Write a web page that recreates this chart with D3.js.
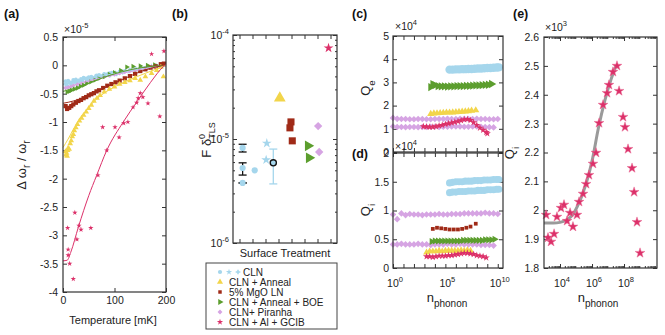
<!DOCTYPE html>
<html><head><meta charset="utf-8">
<script src="https://cdn.jsdelivr.net/npm/d3@7"></script>
<style>
body{margin:0;background:#fff}
svg{font-family:"Liberation Sans",Arial,sans-serif}
</style></head><body><div id="chart"></div>
<script>
// ---- (a) frequency shift vs temperature ----
const aBlueT = [5,10,15,20,25,30,35,40,45,50,55,60,65,70,75,80,85,90,95,100,110,120,130,140,150,160,170,180,190,196];
const aBlueV = [-0.28,-0.27,-0.30,-0.26,-0.25,-0.27,-0.24,-0.22,-0.23,-0.21,-0.20,-0.22,-0.18,-0.17,-0.19,-0.15,-0.16,-0.14,-0.13,-0.14,-0.11,-0.10,-0.08,-0.07,-0.06,-0.04,-0.03,-0.02,0.00,0.02];
const aBlue2T = [6,12,18,24,30,38,46,54,62,70,78,86,94,102,112,122,132,142,152,162,172,182,192];
const aBlue2V = [-0.33,-0.31,-0.30,-0.29,-0.28,-0.26,-0.25,-0.23,-0.21,-0.20,-0.18,-0.17,-0.15,-0.14,-0.12,-0.10,-0.09,-0.07,-0.05,-0.04,-0.02,-0.01,0.01];
const aBlue3T = [8,16,26,36,48,58,68,80,92,104,116,128,140,156,168,184,194];
const aBlue3V = [-0.36,-0.33,-0.31,-0.28,-0.26,-0.24,-0.22,-0.19,-0.17,-0.15,-0.12,-0.10,-0.08,-0.06,-0.04,-0.02,0.00];
const aPurT = [5,10,15,20,28,36,44,52,60,70,80,90,100,110,120,130,140,150,160,170,180,190];
const aPurV = [-0.40,-0.39,-0.38,-0.36,-0.34,-0.32,-0.30,-0.28,-0.26,-0.23,-0.20,-0.18,-0.16,-0.14,-0.12,-0.10,-0.08,-0.06,-0.05,-0.03,-0.02,0.00];
const aGrnT = [8,12,16,22,28,34,40,46,54,62,70,80,90,100,112,124,136,150,164,178,192];
const aGrnV = [-0.47,-0.46,-0.44,-0.42,-0.40,-0.37,-0.35,-0.32,-0.29,-0.26,-0.23,-0.20,-0.16,-0.13,-0.09,-0.03,-0.02,-0.01,0.00,0.01,0.00];
const aRedT = [5,8,12,16,20,25,30,35,40,45,50,55,60,65,70,78,86,94,102,110,120,130,140,150,160,170,180,190,196];
const aRedV = [-0.72,-0.77,-0.75,-0.72,-0.69,-0.66,-0.63,-0.61,-0.58,-0.56,-0.53,-0.51,-0.49,-0.46,-0.44,-0.40,-0.36,-0.33,-0.30,-0.27,-0.23,-0.19,-0.15,-0.10,-0.07,-0.04,-0.02,0.02,0.03];
const aYelT = [5,6,7,8,9,10,12,14,16,18,20,22,25,28,32,36,40,45,50,55,60,66,72,80,90,100,110,120,130,140,150,160,172,182,190,195];
const aYelV = [-1.52,-1.58,-1.55,-1.60,-1.50,-1.46,-1.48,-1.38,-1.33,-1.26,-1.22,-1.15,-1.10,-1.04,-0.98,-0.93,-0.88,-0.82,-0.76,-0.70,-0.63,-0.58,-0.53,-0.47,-0.42,-0.38,-0.33,-0.30,-0.27,-0.23,-0.26,-0.20,-0.14,-0.09,-0.03,-0.20];
const aMagT = [9,10,10,13,20,23,27,31,35,54,68,77,85,101,109,118,126,136,143,146,150,155,165,172,188,196];
const aMagV = [-2.87,-3.25,-3.35,-3.50,-3.77,-2.60,-3.07,-2.83,-2.90,-2.87,-1.94,-1.09,-1.50,-1.09,-1.27,-1.02,-1.00,-0.74,-0.66,-0.58,-0.49,-0.56,-0.67,0.20,-0.90,0.25];
// fits
const fitBlueT = [0,40,80,120,160,200], fitBlueV = [-0.34,-0.26,-0.18,-0.11,-0.05,0.0];
const fitPurT = [0,40,80,120,160,200], fitPurV = [-0.40,-0.30,-0.21,-0.13,-0.06,0.0];
const fitGrnT = [0,20,40,60,80,100,130,160,200], fitGrnV = [-0.46,-0.41,-0.35,-0.28,-0.21,-0.15,-0.08,-0.03,0.0];
const fitRedT = [0,20,40,60,80,100,120,140,160,180,200], fitRedV = [-0.67,-0.63,-0.57,-0.49,-0.40,-0.31,-0.23,-0.15,-0.08,-0.03,0.0];
const fitYelT = [0,10,20,30,40,60,80,100,130,160,200], fitYelV = [-1.45,-1.30,-1.13,-0.98,-0.86,-0.64,-0.49,-0.38,-0.25,-0.14,0.0];
const fitMagT = [0,8,15,30,50,65,85,117,143,170,195,200], fitMagV = [-3.45,-3.44,-3.30,-2.85,-2.30,-1.95,-1.50,-1.00,-0.65,-0.30,-0.02,0.02];

// ---- (b) F delta TLS per surface treatment ----
const bCircX = [1.24,1.24,1.24,2.17], bCircF = [8.2e-6,5.26e-6,3.78e-6,5.0e-6];
const bErrX = [1.24,1.24,1.24], bErrLo = [7.5e-6,4.5e-6,3.76e-6], bErrHi = [8.9e-6,5.9e-6,3.8e-6];
const bStarX = [3.1,3.05], bStarF = [9.1e-6,6.3e-6];
const bMeanX = [3.6], bMeanF = [5.9e-6], bMeanLo = [3.7e-6], bMeanHi = [8.0e-6];
const bYelX = [4.1], bYelF = [2.48e-5];
const bRedX = [4.96,4.88,5.06], bRedF = [1.46e-5,1.28e-5,9.6e-6];
const bGrnX = [6.27,6.35], bGrnF = [8.6e-6,6.6e-6];
const bPurX = [7.05,7.13], bPurF = [1.33e-5,7.5e-6];
const bMagX = [7.85], bMagF = [7.5e-5];
const legendNames = ["CLN","CLN + Anneal","5% MgO LN","CLN + Anneal + BOE","CLN+ Piranha","CLN + Al + GCIB"];

// ---- (c) Qe and (d) Qi vs n_phonon (log10 n, Q in 1e4) ----
const cBlueN = [5.4,5.7,6.0,6.3,6.6,6.9,7.2,7.5,7.8,8.1,8.4,8.7,9.0,9.3,9.6,9.9,10.1];
const cBlueQ = [3.55,3.55,3.56,3.56,3.57,3.57,3.58,3.58,3.59,3.60,3.60,3.61,3.62,3.62,3.63,3.64,3.65];
const cGrnN = [3.6,3.8,4.0,4.3,4.6,4.9,5.2,5.5,5.8,6.1,6.4,6.7,7.0,7.3,7.6,7.9,8.2,8.5,8.8,9.1,9.4];
const cGrnQ = [2.80,2.92,2.88,2.84,2.83,2.83,2.82,2.83,2.83,2.84,2.84,2.84,2.85,2.85,2.86,2.87,2.87,2.88,2.89,2.90,2.93];
const cYelN = [3.6,3.9,4.2,4.5,4.8,5.1,5.4,5.7,6.0,6.3,6.6,6.9,7.2,7.5,7.9];
const cYelQ = [1.64,1.66,1.67,1.68,1.69,1.70,1.70,1.71,1.72,1.73,1.74,1.75,1.76,1.78,1.80];
const cPurAN = [0,0.4,0.8,1.2,1.6,2.0,2.4,2.8,3.2,3.6,4.0,4.4,4.8,5.2,5.6,6.0,6.4,6.8,7.2,7.6,8.0,8.4,8.8,9.2,9.6,10.0];
const cPurAQ = [1.47,1.43,1.42,1.42,1.41,1.41,1.42,1.42,1.41,1.41,1.42,1.42,1.42,1.43,1.42,1.42,1.43,1.43,1.42,1.42,1.43,1.42,1.42,1.41,1.41,1.42];
const cPurBN = [0,0.4,0.8,1.2,1.6,2.0,2.4,2.8,3.2,3.6,4.0,4.4,4.8,5.2,5.6,6.0,6.4,6.8,7.2,7.6,8.0,8.4,8.8,9.2,9.6];
const cPurBQ = [1.10,1.08,1.08,1.07,1.08,1.08,1.07,1.08,1.08,1.09,1.09,1.08,1.09,1.09,1.10,1.10,1.10,1.09,1.09,1.10,1.10,1.09,1.08,1.07,1.06];
const cRedN = [2.9,3.2,3.5,3.8,4.1,4.4,4.7,5.0,5.3,5.6,5.9,6.2,6.5,6.8,7.1,7.4,7.7,8.0,8.3,8.6,8.9,9.0];
const cRedQ = [1.10,1.09,1.08,1.08,1.10,1.13,1.16,1.20,1.23,1.26,1.29,1.32,1.36,1.40,1.41,1.37,1.28,1.16,1.04,0.95,0.85,0.80];

const dBlueAQ = [1.48,1.49,1.50,1.50,1.50,1.51,1.51,1.51,1.52,1.52,1.52,1.53,1.53,1.53,1.54,1.54,1.54];
const dBlueBQ = [1.31,1.32,1.32,1.33,1.33,1.33,1.34,1.34,1.34,1.35,1.35,1.35,1.36,1.36,1.36,1.37,1.37];
const dPurAQ = [0.93,0.85,0.95,0.92,0.94,0.93,0.93,0.92,0.93,0.93,0.93,0.94,0.93,0.93,0.94,0.94,0.94,0.95,0.95,0.95,0.95,0.95,0.96,0.95,0.95,0.94];
const dPurBQ = [0.41,0.41,0.42,0.41,0.41,0.41,0.42,0.41,0.41,0.40,0.41,0.41,0.41,0.42,0.41,0.41,0.42,0.41,0.41,0.41,0.41,0.40,0.40,0.40,0.39];
const dRedN = [3.8,4.2,4.6,5.0,5.4,5.8,6.2,6.6,7.0,7.4,7.9];
const dRedQ = [0.68,0.70,0.69,0.68,0.67,0.67,0.67,0.68,0.70,0.72,0.77];
const dGrnN = [3.7,4.0,4.3,4.6,4.9,5.2,5.5,5.8,6.1,6.4,6.7,7.0,7.3,7.6,7.9,8.2,8.5,8.8,9.1,9.4,9.7];
const dGrnQ = [0.46,0.47,0.47,0.47,0.47,0.47,0.47,0.47,0.47,0.47,0.48,0.48,0.48,0.48,0.48,0.48,0.48,0.49,0.49,0.49,0.50];
const dYelN = [3.2,3.5,3.8,4.1,4.4,4.7,5.0,5.3,5.6,5.9,6.2,6.5,6.8,7.1,7.4];
const dYelQ = [0.27,0.29,0.29,0.29,0.30,0.29,0.30,0.30,0.30,0.30,0.30,0.31,0.30,0.31,0.30];
const dMagN = [3.2,3.5,3.8,4.1,4.4,4.7,5.0,5.3,5.6,5.9,6.2,6.5,6.8,7.1,7.4,7.7,8.0,8.3,8.6,8.9];
const dMagQ = [0.20,0.20,0.19,0.20,0.21,0.21,0.21,0.22,0.22,0.23,0.24,0.25,0.26,0.26,0.25,0.24,0.22,0.21,0.20,0.18];

// ---- (e) Qi vs n_phonon for GCIB sample (log10 n, Q in 1e3) ----
const eN = [3.13,3.25,3.44,3.63,3.81,4.06,4.25,4.44,4.63,4.81,5.06,5.19,5.44,5.63,5.81,6.06,6.25,6.44,6.69,6.94,7.06,7.31,7.56,7.69,7.94,8.06,8.25,8.5,8.63,8.81,9.0];
const eQ = [1.984,1.905,1.891,1.918,1.977,2.008,2.019,1.963,1.991,1.943,1.984,2.029,2.057,2.091,2.122,2.161,2.199,2.302,2.365,2.406,2.434,2.479,2.50,2.413,2.323,2.288,2.212,2.146,2.063,1.959,1.852];
const eFitN = [3.0,3.6,4.0,4.4,4.8,5.1,5.4,5.7,6.0,6.4,6.8,7.2,7.5];
const eFitQ = [1.956,1.956,1.958,1.966,1.985,2.015,2.055,2.105,2.17,2.285,2.38,2.455,2.50];

const W = 665, H = 335;
const axisCol = "#333";
const cBlue = "#a5d6ec", cYel = "#f2d54a", cRed = "#a02a17", cGrn = "#5c9e2e", cPur = "#d6a4e3", cMag = "#dc3069";

const svg = d3.select("#chart").append("svg").attr("width", W).attr("height", H);

function axes(x, y, o) {
  const g = svg.append("g");
  const [x0, x1] = x.range(), [y1, y0] = y.range();
  const L = 4;
  const ax = (gen, tx, ty) => g.append("g").attr("transform", `translate(${tx},${ty})`).call(gen).call(s => s.select(".domain").remove());
  ax(d3.axisBottom(x).tickValues(o.xt).tickSizeInner(-L).tickSizeOuter(0).tickPadding(5).tickFormat(o.xf || (() => "")), 0, y1);
  ax(d3.axisTop(x).tickValues(o.xt).tickSizeInner(-L).tickSizeOuter(0).tickFormat(() => ""), 0, y0);
  ax(d3.axisLeft(y).tickValues(o.yt).tickSizeInner(-L).tickSizeOuter(0).tickPadding(o.yp || 5).tickFormat(o.yf || (() => "")), x0, 0);
  ax(d3.axisRight(y).tickValues(o.yt).tickSizeInner(-L).tickSizeOuter(0).tickFormat(() => ""), x1, 0);
  if (o.xm) {
    ax(d3.axisBottom(x).tickValues(o.xm).tickSizeInner(-2).tickSizeOuter(0).tickFormat(() => ""), 0, y1);
    ax(d3.axisTop(x).tickValues(o.xm).tickSizeInner(-2).tickSizeOuter(0).tickFormat(() => ""), 0, y0);
  }
  if (o.ym) {
    ax(d3.axisLeft(y).tickValues(o.ym).tickSizeInner(-2).tickSizeOuter(0).tickFormat(() => ""), x0, 0);
    ax(d3.axisRight(y).tickValues(o.ym).tickSizeInner(-2).tickSizeOuter(0).tickFormat(() => ""), x1, 0);
  }
  g.selectAll(".tick line").attr("stroke", axisCol);
  g.selectAll("g").attr("font-family", null).attr("font-size", null);
  g.selectAll(".tick text").attr("fill", "#222").attr("font-size", 10.5);
  return g;
}
function frame(x, y) {
  const [x0, x1] = x.range(), [y1, y0] = y.range();
  svg.append("rect").attr("x", x0).attr("y", y0).attr("width", x1 - x0).attr("height", y1 - y0)
    .attr("fill", "none").attr("stroke", axisCol).attr("stroke-width", 1.2);
}
function plot(xs, ys, x, y, o) {
  svg.append("g").selectAll("path").data(xs.map((v, i) => [v, ys[i]])).join("path")
    .attr("d", d3.symbol().type(o.type).size(o.size))
    .attr("transform", d => `translate(${x(d[0])},${y(d[1])}) rotate(${o.rot || 0})`)
    .attr("fill", o.fill).attr("stroke", o.stroke || "none").attr("stroke-width", o.sw || 0);
}
function fit(xs, ys, x, y, color, w) {
  svg.append("path").datum(xs.map((v, i) => [v, ys[i]]))
    .attr("d", d3.line().x(d => x(d[0])).y(d => y(d[1])).curve(d3.curveMonotoneX))
    .attr("fill", "none").attr("stroke", color).attr("stroke-width", w || 1);
}
function supText(x, y, base, sup, anchor, size, g) {
  const t = (g || svg).append("text").attr("x", x).attr("y", y).attr("text-anchor", anchor || "start")
    .attr("font-size", size).attr("fill", "#222");
  t.append("tspan").text(base);
  t.append("tspan").attr("dy", -size * 0.45).attr("font-size", size * 0.72).text(sup);
  return t;
}
function subLabel(x, y, base, sub, size, rotate) {
  const t = svg.append("text").attr("text-anchor", "middle").attr("font-size", size).attr("fill", "#222")
    .attr("transform", rotate ? `translate(${x},${y}) rotate(-90)` : `translate(${x},${y})`);
  t.append("tspan").text(base);
  t.append("tspan").attr("dy", size * 0.35).attr("font-size", size * 0.75).text(sub);
  return t;
}
function panelTag(x, y, s) {
  svg.append("text").attr("x", x).attr("y", y).attr("font-size", 12.5).attr("font-weight", "bold").attr("fill", "#111").text(s);
}
const logTicks = (a, b) => { const r = []; for (let k = a; k <= b; k++) for (let m = 2; m <= 9; m++) r.push(m * 10 ** k); return r; };
const pow = arr => arr.map(n => 10 ** n);
const rightTri = d3.symbolTriangle;

// ===== (a) =====
const xa = d3.scaleLinear([0, 200], [63, 166]);
const ya = d3.scaleLinear([-4, 0.5], [292, 37]);
axes(xa, ya, { xt: [0, 100, 200], xf: d => d, yt: d3.range(-4, 0.51, 0.5), yf: d => String(+d.toFixed(1)) });
plot(aBlue3T, aBlue3V, xa, ya, { type: d3.symbolCross, size: 12, fill: cBlue });
plot(aBlue2T, aBlue2V, xa, ya, { type: d3.symbolStar, size: 12, fill: cBlue });
plot(aBlueT, aBlueV, xa, ya, { type: d3.symbolCircle, size: 12, fill: cBlue });
plot(aPurT, aPurV, xa, ya, { type: d3.symbolSquare, size: 10, rot: 45, fill: cPur });
plot(aGrnT, aGrnV, xa, ya, { type: rightTri, size: 12, rot: 90, fill: cGrn });
plot(aRedT, aRedV, xa, ya, { type: d3.symbolSquare, size: 18, fill: cRed });
plot(aYelT, aYelV, xa, ya, { type: d3.symbolTriangle, size: 14, fill: cYel });
plot(aMagT, aMagV, xa, ya, { type: d3.symbolStar, size: 9, fill: cMag });
fit(fitBlueT, fitBlueV, xa, ya, cBlue);
fit(fitPurT, fitPurV, xa, ya, cPur);
fit(fitGrnT, fitGrnV, xa, ya, cGrn);
fit(fitRedT, fitRedV, xa, ya, cRed);
fit(fitYelT, fitYelV, xa, ya, cYel);
fit(fitMagT, fitMagV, xa, ya, cMag);
frame(xa, ya);
supText(64, 33, "×10", "-5", "start", 10.5);
svg.append("text").attr("x", 113).attr("y", 324).attr("text-anchor", "middle").attr("font-size", 11).attr("fill", "#222").text("Temperature [mK]");
{
  const t = svg.append("text").attr("text-anchor", "middle").attr("font-size", 13).attr("fill", "#222")
    .attr("transform", "translate(26,165) rotate(-90)");
  t.append("tspan").text("Δ ω");
  t.append("tspan").attr("dy", 4).attr("font-size", 10).text("r");
  t.append("tspan").attr("dy", -4).text(" / ω");
  t.append("tspan").attr("dy", 4).attr("font-size", 10).text("r");
}
panelTag(4, 18, "(a)");

// ===== (b) =====
const xb = d3.scaleLinear([0.5, 8.5], [233, 337]);
const yb = d3.scaleLog([1e-6, 1e-4], [243, 35]);
axes(xb, yb, { xt: d3.range(1, 9), yt: [1e-6, 1e-5, 1e-4], ym: logTicks(-6, -5) });
[1e-4, 1e-5, 1e-6].forEach(v => supText(229, yb(v) + 4, "10", String(Math.log10(v)), "end", 10.5));
svg.append("g").selectAll("g").data(bErrX.map((v, i) => [v, bErrLo[i], bErrHi[i]])).join("g").each(function (d) {
  const s = d3.select(this), cx = xb(d[0]);
  s.append("line").attr("x1", cx).attr("x2", cx).attr("y1", yb(d[1])).attr("y2", yb(d[2])).attr("stroke", "#111").attr("stroke-width", 1.3);
  [d[1], d[2]].forEach(v => s.append("line").attr("x1", cx - 4).attr("x2", cx + 4).attr("y1", yb(v)).attr("y2", yb(v)).attr("stroke", "#111").attr("stroke-width", 1.3));
});
plot(bCircX, bCircF, xb, yb, { type: d3.symbolCircle, size: 30, fill: cBlue });
plot(bStarX, bStarF, xb, yb, { type: d3.symbolStar, size: 30, fill: cBlue });
svg.append("g").selectAll("g").data(bMeanX.map((v, i) => [v, bMeanLo[i], bMeanHi[i]])).join("g").each(function (d) {
  const s = d3.select(this), cx = xb(d[0]);
  s.append("line").attr("x1", cx).attr("x2", cx).attr("y1", yb(d[1])).attr("y2", yb(d[2])).attr("stroke", cBlue).attr("stroke-width", 1.3);
  [d[1], d[2]].forEach(v => s.append("line").attr("x1", cx - 4).attr("x2", cx + 4).attr("y1", yb(v)).attr("y2", yb(v)).attr("stroke", cBlue).attr("stroke-width", 1.3));
});
plot(bMeanX, bMeanF, xb, yb, { type: d3.symbolCircle, size: 30, fill: cBlue, stroke: "#111", sw: 1.3 });
plot(bYelX, bYelF, xb, yb, { type: d3.symbolTriangle, size: 60, fill: cYel });
plot(bRedX, bRedF, xb, yb, { type: d3.symbolSquare, size: 50, fill: cRed });
plot(bGrnX, bGrnF, xb, yb, { type: rightTri, size: 50, rot: 90, fill: cGrn });
plot(bPurX, bPurF, xb, yb, { type: d3.symbolSquare, size: 35, rot: 45, fill: cPur });
plot(bMagX, bMagF, xb, yb, { type: d3.symbolStar, size: 30, fill: cMag });
frame(xb, yb);
svg.append("text").attr("x", 285).attr("y", 257).attr("text-anchor", "middle").attr("font-size", 11).attr("fill", "#222").text("Surface Treatment");
{
  const t = svg.append("text").attr("text-anchor", "middle").attr("font-size", 13).attr("fill", "#222")
    .attr("transform", "translate(211,140) rotate(-90)");
  t.append("tspan").text("F δ");
  t.append("tspan").attr("dy", -6).attr("font-size", 9).text("0");
  t.append("tspan").attr("dx", -5).attr("dy", 10).attr("font-size", 9).text("TLS");
}
panelTag(172, 18, "(b)");
// legend
{
  const lg = svg.append("g");
  lg.append("rect").attr("x", 206).attr("y", 263).attr("width", 131).attr("height", 66).attr("fill", "#fff").attr("stroke", "#444").attr("stroke-width", 1);
  const mk = [
    [{ type: d3.symbolCircle, size: 14 }, { type: d3.symbolStar, size: 12 }, { type: d3.symbolCross, size: 12 }],
    [{ type: d3.symbolTriangle, size: 16 }], [{ type: d3.symbolSquare, size: 12 }],
    [{ type: rightTri, size: 16, rot: 90 }], [{ type: d3.symbolSquare, size: 12, rot: 45 }], [{ type: d3.symbolStar, size: 12 }]
  ];
  const cols = [cBlue, cYel, cRed, cGrn, cPur, cMag];
  legendNames.forEach((name, i) => {
    const cy = 272 + i * 10;
    mk[i].forEach((m, j) => lg.append("path").attr("d", d3.symbol().type(m.type).size(m.size)())
      .attr("transform", `translate(${220 + j * 9},${cy}) rotate(${m.rot || 0})`).attr("fill", cols[i]));
    lg.append("text").attr("x", i === 0 ? 243 : 229).attr("y", cy + 3.5).attr("font-size", 10).attr("fill", "#222").text(name);
  });
}

// ===== (c) & (d) =====
const xc = d3.scaleLog([1, 10 ** 10.5], [393, 503]);
const yc = d3.scaleLinear([0, 5], [152, 36]);
const yd = d3.scaleLinear([0, 2], [268, 153]);
const decades = d3.range(0, 11).map(k => 10 ** k);
axes(xc, yc, { xt: decades, yt: [0, 1, 2, 3, 4, 5], yf: d => d, yp: 4 });
axes(xc, yd, { xt: decades, yt: [0, 0.5, 1, 1.5, 2], yf: d => d, yp: 4 });
[0, 5, 10].forEach(k => supText(xc(10 ** k) + 2, 287, "10", String(k), "middle", 10.5));

plot(pow(cPurAN), cPurAQ, xc, yc, { type: d3.symbolSquare, size: 22, rot: 45, fill: cPur });
plot(pow(cPurBN), cPurBQ, xc, yc, { type: d3.symbolSquare, size: 22, rot: 45, fill: cPur });
plot(pow(cBlueN), cBlueQ, xc, yc, { type: d3.symbolCircle, size: 55, fill: cBlue });
plot(pow(cGrnN), cGrnQ, xc, yc, { type: rightTri, size: 30, rot: 90, fill: cGrn });
plot(pow(cYelN), cYelQ, xc, yc, { type: d3.symbolTriangle, size: 22, fill: cYel });
plot(pow(cRedN), cRedQ, xc, yc, { type: d3.symbolStar, size: 16, fill: cMag });
frame(xc, yc);

plot(pow(cBlueN), dBlueAQ, xc, yd, { type: d3.symbolCircle, size: 40, fill: cBlue });
plot(pow(cBlueN), dBlueBQ, xc, yd, { type: d3.symbolCircle, size: 40, fill: cBlue });
plot(pow(cPurAN), dPurAQ, xc, yd, { type: d3.symbolSquare, size: 22, rot: 45, fill: cPur });
plot(pow(cPurBN), dPurBQ, xc, yd, { type: d3.symbolSquare, size: 22, rot: 45, fill: cPur });
plot(pow(dRedN), dRedQ, xc, yd, { type: d3.symbolSquare, size: 14, fill: cRed });
plot(pow(dGrnN), dGrnQ, xc, yd, { type: rightTri, size: 22, rot: 90, fill: cGrn });
plot(pow(dYelN), dYelQ, xc, yd, { type: d3.symbolTriangle, size: 20, fill: cYel });
plot(pow(dMagN), dMagQ, xc, yd, { type: d3.symbolStar, size: 16, fill: cMag });
frame(xc, yd);
supText(395, 30, "×10", "4", "start", 10.5);
supText(395, 150, "×10", "4", "start", 10.5);
subLabel(370, 88, "Q", "e", 13, true);
subLabel(370, 210, "Q", "i", 13, true);
{
  const t = svg.append("text").attr("x", 447).attr("y", 302).attr("text-anchor", "middle").attr("font-size", 13).attr("fill", "#222");
  t.append("tspan").text("n");
  t.append("tspan").attr("dy", 5).attr("font-size", 10).text("phonon");
}
panelTag(352, 18, "(c)");
panelTag(352, 158, "(d)");

// ===== (e) =====
const xe = d3.scaleLog([1e3, 10 ** 10.06], [544, 657]);
const ye = d3.scaleLinear([1.8, 2.6], [268, 37]);
axes(xe, ye, { xt: [1e4, 1e6, 1e8], xm: logTicks(3, 9).filter(v => v < 10 ** 10.06), yt: d3.range(1.8, 2.61, 0.1), yf: d => String(+d.toFixed(1)) });
[4, 6, 8].forEach(k => supText(xe(10 ** k) + 2, 287, "10", String(k), "middle", 10.5));
fit(pow(eFitN), eFitQ, xe, ye, "#9a9a9a", 3);
plot(pow(eN), eQ, xe, ye, { type: d3.symbolStar, size: 30, fill: cMag, stroke: "#e86a94", sw: 0.5 });
frame(xe, ye);
supText(545, 31, "×10", "3", "start", 10.5);
subLabel(514, 153, "Q", "i", 13, true);
{
  const t = svg.append("text").attr("x", 598).attr("y", 302).attr("text-anchor", "middle").attr("font-size", 13).attr("fill", "#222");
  t.append("tspan").text("n");
  t.append("tspan").attr("dy", 5).attr("font-size", 10).text("phonon");
}
panelTag(513, 18, "(e)");
</script>
</body></html>
